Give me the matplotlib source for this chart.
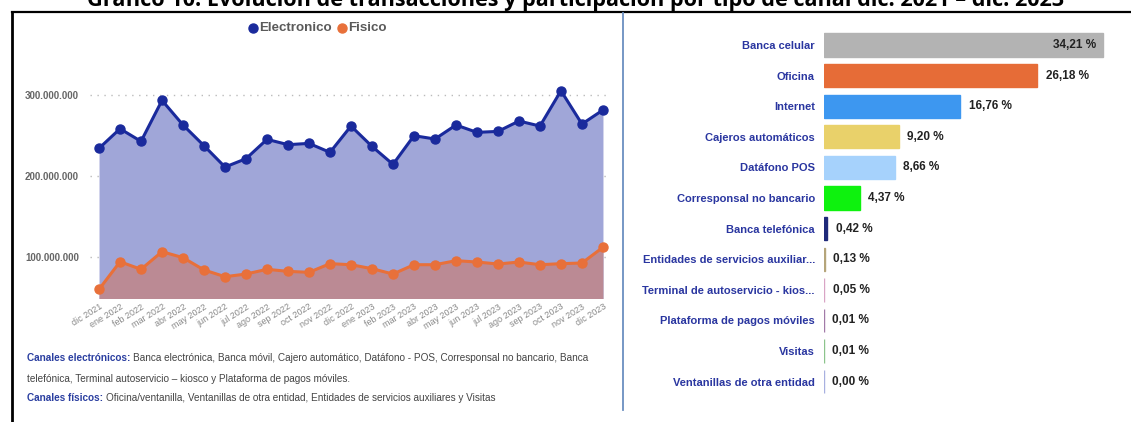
import matplotlib
matplotlib.use("Agg")
import matplotlib.pyplot as plt
from matplotlib.lines import Line2D

W, H = 1131, 422

months = ["dic 2021", "ene 2022", "feb 2022", "mar 2022", "abr 2022", "may 2022", "jun 2022",
          "jul 2022", "ago 2022", "sep 2022", "oct 2022", "nov 2022", "dic 2022", "ene 2023",
          "feb 2023", "mar 2023", "abr 2023", "may 2023", "jun 2023", "jul 2023", "ago 2023",
          "sep 2023", "oct 2023", "nov 2023", "dic 2023"]
electronico = [234.2, 258.4, 242.8, 293.4, 263.0, 237.4, 211.1, 221.4, 245.3, 238.7, 240.3,
               229.2, 261.7, 236.6, 214.4, 249.8, 245.7, 263.0, 253.9, 255.1, 267.9, 261.7,
               305.3, 264.2, 281.5]
fisico = [60.1, 94.2, 84.8, 106.6, 99.2, 84.0, 75.7, 79.0, 84.8, 82.3, 81.1, 91.8, 90.5,
          85.6, 79.0, 90.5, 90.5, 95.5, 93.8, 91.4, 93.8, 90.5, 91.8, 92.6, 112.0]
electronico = [v * 1e6 for v in electronico]
fisico = [v * 1e6 for v in fisico]
y_ticks = [100e6, 200e6, 300e6]

canales = ["Banca celular", "Oficina", "Internet", "Cajeros automáticos", "Datáfono POS",
           "Corresponsal no bancario", "Banca telefónica", "Entidades de servicios auxiliar...",
           "Terminal de autoservicio - kios...", "Plataforma de pagos móviles", "Visitas",
           "Ventanillas de otra entidad"]
participacion = [34.21, 26.18, 16.76, 9.20, 8.66, 4.37, 0.42, 0.13, 0.05, 0.01, 0.01, 0.00]
bar_colors = ["#b3b3b3", "#e66c37", "#3d97f0", "#e9d16a", "#a6d2fc", "#0ef20e", "#1f2a7a",
              "#b5a57a", "#d9a4c5", "#a27aa8", "#8cc48c", "#a8b0e0"]

SANS = ["Liberation Sans", "DejaVu Sans"]
NARROW = ["Liberation Sans Narrow", "Liberation Sans", "DejaVu Sans"]
plt.rcParams["font.family"] = SANS

fig = plt.figure(figsize=(W / 100, H / 100), dpi=100)
fig.patch.set_facecolor("white")


def fx(px):
    return px / W


def fy(py):
    return 1 - py / H


def ax_rect(l, t, r, b):
    return [fx(l), fy(b), (r - l) / W, (b - t) / H]


# ---------- frame lines ----------
fig.add_artist(Line2D([fx(12), fx(1131)], [fy(12), fy(12)], color="black", lw=1.6))
fig.add_artist(Line2D([fx(12), fx(12)], [fy(12), fy(422)], color="black", lw=2.0))
fig.add_artist(Line2D([fx(623), fx(623)], [fy(13), fy(410)], color="#6b8fc0", lw=1.3))

# ---------- title (partly cut off at top, as in the source) ----------
fig.text(fx(576), fy(6), "Gráfico 10: Evolución de transacciones y participación por tipo de canal dic. 2021 – dic. 2023",
         ha="center", va="baseline", fontsize=15.6, fontweight="bold", color="black",
         family=["Open Sans", "Liberation Sans", "DejaVu Sans"])

# ---------- line/area chart ----------
ax = fig.add_axes(ax_rect(90, 50, 608, 298))
x = list(range(len(months)))
c_e_line, c_e_fill = "#1a2a9c", "#a0a6d8"
c_f_line, c_f_fill = "#e8703a", "#bb8a94"
ax.fill_between(x, 0, electronico, color=c_e_fill, lw=0, zorder=1)
ax.fill_between(x, 0, fisico, color=c_f_fill, lw=0, zorder=2)
ax.plot(x, electronico, color=c_e_line, lw=2.2, marker="o", ms=6.5, zorder=4)
ax.plot(x, fisico, color=c_f_line, lw=2.2, marker="o", ms=6.5, zorder=4)
ax.set_xlim(-0.43, 24.24)
ax.set_ylim(49.4e6, 355.6e6)
ax.set_yticks(y_ticks)
ax.set_yticklabels([f"{int(v):,}".replace(",", ".") for v in y_ticks],
                   fontsize=7, fontweight="bold", color="#666666")
ax.yaxis.grid(True, linestyle=(0, (1, 4)), color="#bbbbbb", lw=1)
ax.set_axisbelow(True)
ax.set_xticks(x)
ax.set_xticklabels(months, rotation=32, ha="right", rotation_mode="anchor",
                   fontsize=6.5, color="#888888")
ax.tick_params(axis="both", length=0)
ax.tick_params(axis="y", pad=8)
ax.tick_params(axis="x", pad=3)
for s in ax.spines.values():
    s.set_visible(False)
ax.set_facecolor("none")

# legend
fig.add_artist(Line2D([fx(253)], [fy(28)], marker="o", ms=6.5, color=c_e_line, lw=0))
fig.text(fx(259), fy(28), "Electronico", ha="left", va="center", fontsize=9.6,
         fontweight="bold", color="#5a5a5a")
fig.add_artist(Line2D([fx(342)], [fy(28)], marker="o", ms=6.5, color=c_f_line, lw=0))
fig.text(fx(348), fy(28), "Fisico", ha="left", va="center", fontsize=9.6,
         fontweight="bold", color="#5a5a5a")

# footnotes
fig.canvas.draw()
renderer = fig.canvas.get_renderer()
FN = 7.2


def mixed(px, py, head, rest):
    t = fig.text(fx(px), fy(py), head, ha="left", va="center", fontsize=FN,
                 family=NARROW, color="#2a3ea0", fontweight="bold")
    bb = t.get_window_extent(renderer=renderer)
    fig.text(bb.x1 / W + 3 / W, fy(py), rest, ha="left", va="center", fontsize=FN,
             family=NARROW, color="#444444")


mixed(27, 358, "Canales electrónicos:",
      "Banca electrónica, Banca móvil, Cajero automático, Datáfono - POS, Corresponsal no bancario, Banca")
fig.text(fx(27), fy(379), "telefónica, Terminal autoservicio – kiosco y Plataforma de pagos móviles.",
         ha="left", va="center", fontsize=FN, family=NARROW, color="#444444")
mixed(27, 398, "Canales físicos:",
      "Oficina/ventanilla, Ventanillas de otra entidad, Entidades de servicios auxiliares y Visitas")

# ---------- bar chart ----------
bx = fig.add_axes(ax_rect(824, 29.7, 1118, 397))
yy = list(range(len(canales)))
bx.barh(yy, participacion, height=0.76, color=bar_colors, edgecolor=bar_colors, lw=1.0)
bx.set_ylim(len(canales) - 0.5, -0.5)
bx.set_xlim(0, 36.1)
bx.set_yticks(yy)
bx.set_yticklabels(canales, fontsize=8, fontweight="bold", color="#2a36a0")
bx.set_xticks([])
bx.tick_params(axis="y", length=0, pad=6.5)
for s in bx.spines.values():
    s.set_visible(False)
for i, v in enumerate(participacion):
    lab = f"{v:.2f}".replace(".", ",") + " %"
    if v > 30:
        bx.annotate(lab, (v, i), xytext=(-5, 0), textcoords="offset points", ha="right",
                    va="center", fontsize=8.5, fontweight="bold", color="#222222")
    else:
        bx.annotate(lab, (v, i), xytext=(6, 0), textcoords="offset points", ha="left",
                    va="center", fontsize=8.5, fontweight="bold", color="#222222")

fig.savefig("out.png", dpi=100, facecolor="white")
